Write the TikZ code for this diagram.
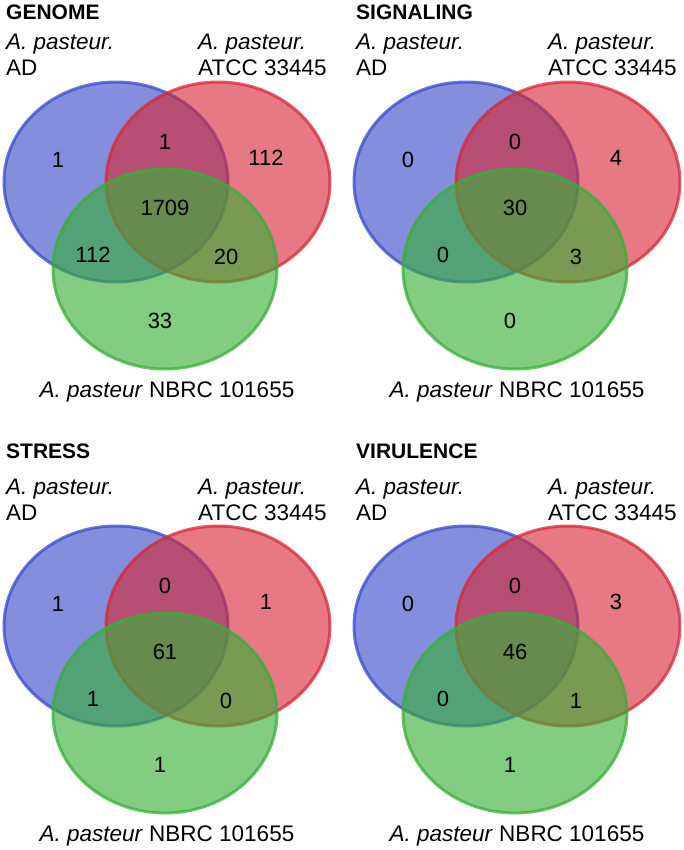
\documentclass[tikz,border=0pt]{standalone}
\usepackage{fontspec}
\setmainfont{Liberation Sans}
\definecolor{vblue}{RGB}{55,75,200}
\definecolor{vred}{RGB}{215,40,55}
\definecolor{vgreen}{RGB}{55,175,55}
\tikzset{
  vset/.style={line width=3pt, fill opacity=0.62, draw opacity=0.75},
  num/.style={inner sep=0pt, font=\fontsize{22}{26}\selectfont},
  lbl/.style={inner sep=0pt, font=\fontsize{22.5}{27}\selectfont},
  ttl/.style={inner sep=0pt, font=\fontsize{21}{25}\selectfont\bfseries}
}
\newcommand\vennpanel[8]{%
  \path[vset, draw=vblue, fill=vblue] (116,182) ellipse [x radius=112, y radius=100];
  \path[vset, draw=vred, fill=vred] (218,182) ellipse [x radius=112, y radius=100];
  \path[vset, draw=vgreen, fill=vgreen] (165,269) ellipse [x radius=112, y radius=100];
  \node[lbl, anchor=base west] (#1-la1) at (6,50) {\itshape A. pasteur.};
  \node[lbl, anchor=base west] (#1-la2) at (6,76) {AD};
  \node[lbl, anchor=base west] (#1-lb1) at (198,50) {\itshape A. pasteur.};
  \node[lbl, anchor=base west] (#1-lb2) at (198,76) {ATCC 33445};
  \node[lbl, anchor=base] (#1-lc) at (167,397) {\itshape A. pasteur\/\upshape\ NBRC 101655};
  \node[num] (#1-b) at (58,160) {#2};
  \node[num] (#1-br) at (165,142) {#3};
  \node[num] (#1-r) at (266,158) {#4};
  \node[num] (#1-c) at (165,208) {#5};
  \node[num] (#1-bg) at (93,255) {#6};
  \node[num] (#1-rg) at (226,257) {#7};
  \node[num] (#1-g) at (160,321) {#8};
}
\begin{document}
\begin{tikzpicture}[x=1pt,y=-1pt]
\useasboundingbox[fill=white] (0,0) rectangle (683,850);
\begin{scope}
  \node[ttl, anchor=base west] (t1) at (6,20) {GENOME};
  \vennpanel{g}{1}{1}{112}{1709}{112}{20}{33}
\end{scope}
\begin{scope}[shift={(350,0)}]
  \node[ttl, anchor=base west] (t2) at (6,20) {SIGNALING};
  \vennpanel{s}{0}{0}{4}{30}{0}{3}{0}
\end{scope}
\begin{scope}[shift={(0,444)}]
  \node[ttl, anchor=base west] (t3) at (6,14) {STRESS};
  \vennpanel{st}{1}{0}{1}{61}{1}{0}{1}
\end{scope}
\begin{scope}[shift={(350,444)}]
  \node[ttl, anchor=base west] (t4) at (6,14) {VIRULENCE};
  \vennpanel{v}{0}{0}{3}{46}{0}{1}{1}
\end{scope}
\end{tikzpicture}
\end{document}
